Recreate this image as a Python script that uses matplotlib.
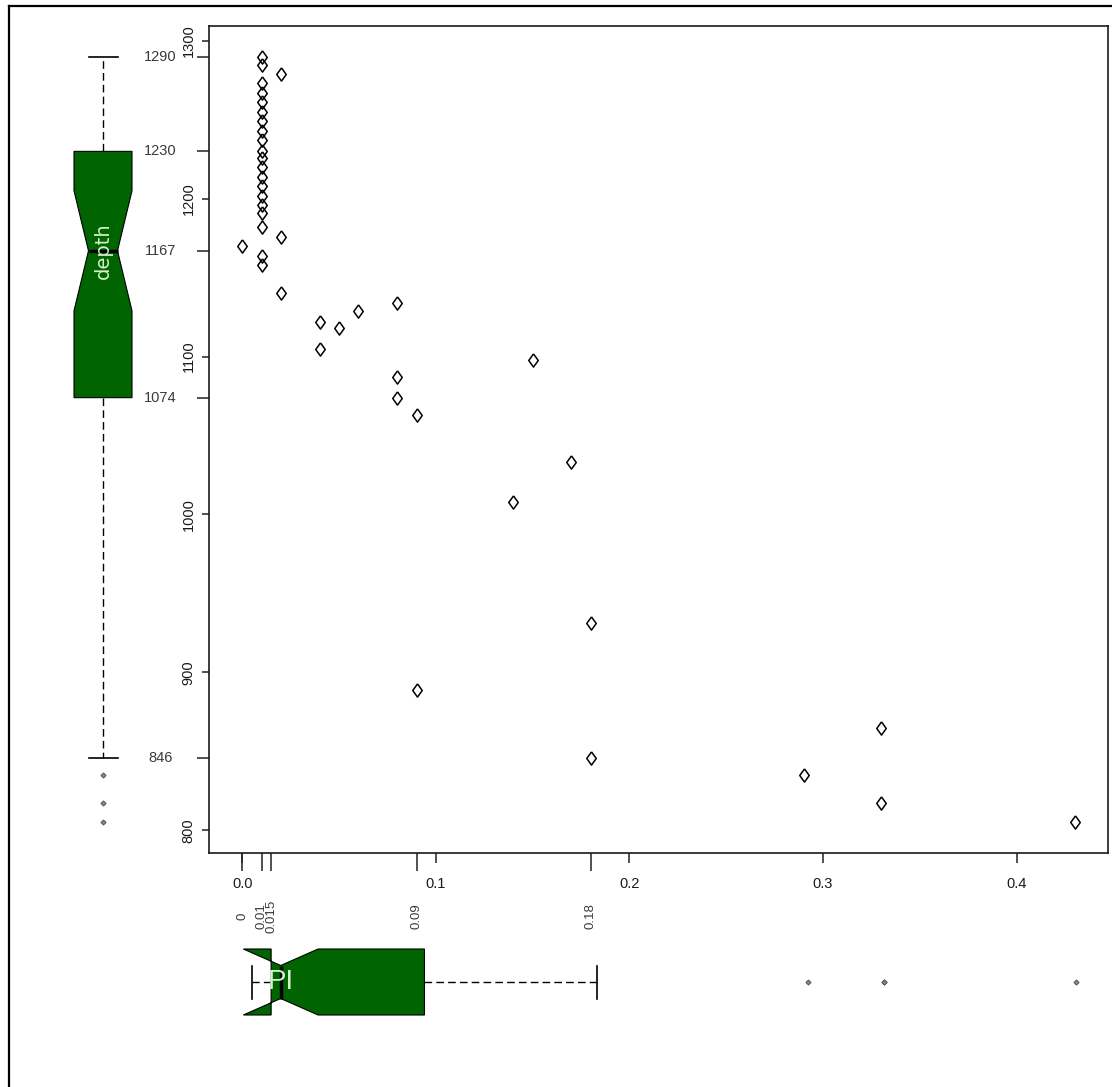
import numpy as np
import matplotlib
matplotlib.use("Agg")
import matplotlib.pyplot as plt
from matplotlib import font_manager
from matplotlib.ticker import FixedLocator, FixedFormatter
from matplotlib.lines import Line2D

# ---- data -------------------------------------------------------------
pi = [0.0,
      0.01, 0.01, 0.01, 0.01, 0.01, 0.01, 0.01, 0.01, 0.01, 0.01,
      0.01, 0.01, 0.01, 0.01, 0.01, 0.01, 0.01, 0.01, 0.01, 0.01,
      0.02, 0.02, 0.02,
      0.04, 0.04, 0.05, 0.06,
      0.08, 0.08, 0.08, 0.09, 0.09,
      0.14, 0.15, 0.17, 0.18, 0.18,
      0.29, 0.33, 0.33, 0.43]
depth = [1170,
         1290, 1285, 1273, 1267, 1261, 1255, 1249, 1243, 1237, 1230,
         1226, 1220, 1214, 1208, 1202, 1196, 1191, 1182, 1164, 1158,
         1279, 1176, 1140,
         1122, 1105, 1118, 1129,
         1134, 1087, 1074, 1063, 889,
         1008, 1098, 1033, 931, 846,
         835, 865, 817, 805]

x_major_ticks = [0.0, 0.1, 0.2, 0.3, 0.4]
x_major_labels = ["0.0", "0.1", "0.2", "0.3", "0.4"]
y_major_ticks = [800, 900, 1000, 1100, 1200, 1300]
y_major_labels = ["800", "900", "1000", "1100", "1200", "1300"]

BOX_GREEN = "#006400"
TEXT_LIGHT = "#d4f0cc"

# ---- fonts ------------------------------------------------------------
_names = {f.name for f in font_manager.fontManager.ttflist}
narrow = "Liberation Sans Narrow" if "Liberation Sans Narrow" in _names else "Liberation Sans"
plt.rcParams["font.family"] = [narrow, "DejaVu Sans"]


# ---- Tukey five-number summary and box statistics ----------------------
def fivenum(values):
    x = np.sort(np.asarray(values, dtype=float))
    n = len(x)
    n4 = np.floor((n + 3) / 2) / 2
    d = np.array([1, n4, (n + 1) / 2, n + 1 - n4, n]) - 1
    return 0.5 * (x[np.floor(d).astype(int)] + x[np.ceil(d).astype(int)])


def box_stats(values, coef=1.5):
    x = np.asarray(values, dtype=float)
    s = fivenum(x)
    iqr = s[3] - s[1]
    lo_lim, hi_lim = s[1] - coef * iqr, s[3] + coef * iqr
    inside = x[(x >= lo_lim - 1e-12) & (x <= hi_lim + 1e-12)]
    half = 1.58 * iqr / np.sqrt(len(x))
    return dict(med=s[2], q1=s[1], q3=s[3],
                whislo=inside.min(), whishi=inside.max(),
                fliers=x[(x < lo_lim - 1e-12) | (x > hi_lim + 1e-12)],
                cilo=s[2] - half, cihi=s[2] + half)


def padded(values, frac=0.04):
    lo, hi = min(values), max(values)
    r = hi - lo
    return lo - frac * r, hi + frac * r


def fmt(v):
    return f"{round(v, 6):g}"


pi_stats = box_stats(pi)
depth_stats = box_stats(depth)
xlim = padded(pi)
ylim = padded(depth)

# ---- figure layout (pixel based) ---------------------------------------
W, H = 1112, 1087
fig = plt.figure(figsize=(W / 100, H / 100), dpi=100)
fig.patch.set_facecolor("white")


def px_axes(x0, y0, x1, y1):
    return fig.add_axes([x0 / W, 1 - y1 / H, (x1 - x0) / W, (y1 - y0) / H])


ax = px_axes(209, 26, 1108, 853)
ax_left = px_axes(45, 26, 161, 853)
ax_bottom = px_axes(219, 916, 1109, 1048)

# open diamond, a little wider than matplotlib's thin diamond
diamond = [(0, 1), (0.72, 0), (0, -1), (-0.72, 0), (0, 1)]

# ---- scatter -----------------------------------------------------------
ax.plot(pi, depth, linestyle="none", marker=diamond, markersize=9.5,
        markerfacecolor="none", markeredgecolor="black", markeredgewidth=1.1)
ax.set_xlim(*xlim)
ax.set_ylim(*ylim)
for sp in ax.spines.values():
    sp.set_linewidth(1.2)
    sp.set_color("#1a1a1a")

ax.xaxis.remove_overlapping_locs = False
ax.yaxis.remove_overlapping_locs = False

ax.set_xticks(x_major_ticks)
ax.set_xticklabels(x_major_labels)
ax.set_yticks(y_major_ticks)
ax.set_yticklabels(y_major_labels)

pi_marks = [pi_stats["whislo"], pi_stats["q1"], pi_stats["med"], pi_stats["q3"], pi_stats["whishi"]]
depth_marks = [depth_stats["whislo"], depth_stats["q1"], depth_stats["med"], depth_stats["q3"], depth_stats["whishi"]]
ax.xaxis.set_minor_locator(FixedLocator(pi_marks))
ax.xaxis.set_minor_formatter(FixedFormatter([fmt(v) for v in pi_marks]))
ax.yaxis.set_minor_locator(FixedLocator(depth_marks))
ax.yaxis.set_minor_formatter(FixedFormatter([fmt(v) for v in depth_marks]))

ax.tick_params(axis="y", which="major", length=5, width=1.1, pad=9.8,
               labelsize=10.5, labelrotation=90, labelcolor="#1a1a1a", color="#222222")
ax.tick_params(axis="y", which="minor", length=8.6, width=1.1, pad=26.6,
               labelsize=10.5, labelcolor="#3a3a3a", color="#222222")
ax.tick_params(axis="x", which="major", length=7.2, width=1.1, pad=15.1,
               labelsize=10.5, labelcolor="#1a1a1a", color="#222222")
ax.tick_params(axis="x", which="minor", length=13, width=1.1, pad=32.4,
               labelsize=9.5, labelrotation=90, labelcolor="#3a3a3a", color="#222222")

for lbls in (ax.get_yticklabels(), ax.get_yticklabels(minor=True),
             ax.get_xticklabels(), ax.get_xticklabels(minor=True)):
    for t in lbls:
        t.set_rotation_mode("default")
        t.set_ha("center")
        t.set_va("center")

# ---- marginal notched boxplots -----------------------------------------
common = dict(positions=[1], widths=[1], shownotches=True, patch_artist=True,
              manage_ticks=False,
              boxprops=dict(facecolor=BOX_GREEN, edgecolor="black", linewidth=0.8),
              whiskerprops=dict(color="black", linestyle=(0, (5.5, 3)), linewidth=1.0),
              capprops=dict(color="black", linewidth=1.2),
              medianprops=dict(color="black", linewidth=2.5),
              flierprops=dict(marker="D", markersize=2.6, markerfacecolor="#888888",
                              markeredgecolor="#555555", markeredgewidth=0.7,
                              linestyle="none"))

ax_left.bxp([depth_stats], orientation="vertical", **common)
ax_left.set_xlim(0, 2)
ax_left.set_ylim(*ylim)
ax_left.axis("off")
ax_left.text(1, depth_stats["med"], "depth", rotation=90, ha="center", va="center",
             color=TEXT_LIGHT, fontsize=14, family="DejaVu Sans")

ax_bottom.bxp([pi_stats], orientation="horizontal", **common)
ax_bottom.set_xlim(*xlim)
ax_bottom.set_ylim(0, 2)
ax_bottom.invert_yaxis()
ax_bottom.axis("off")
ax_bottom.text(pi_stats["med"], 1, "PI", ha="center", va="center",
               color=TEXT_LIGHT, fontsize=20)

# ---- outer frame --------------------------------------------------------
fig.add_artist(Line2D([9 / W, 9 / W], [1 - 6 / H, 0], transform=fig.transFigure,
                      color="black", linewidth=1.6))
fig.add_artist(Line2D([9 / W, 1], [1 - 6 / H, 1 - 6 / H], transform=fig.transFigure,
                      color="black", linewidth=1.6))

fig.savefig("out.png", dpi=100, facecolor="white")
